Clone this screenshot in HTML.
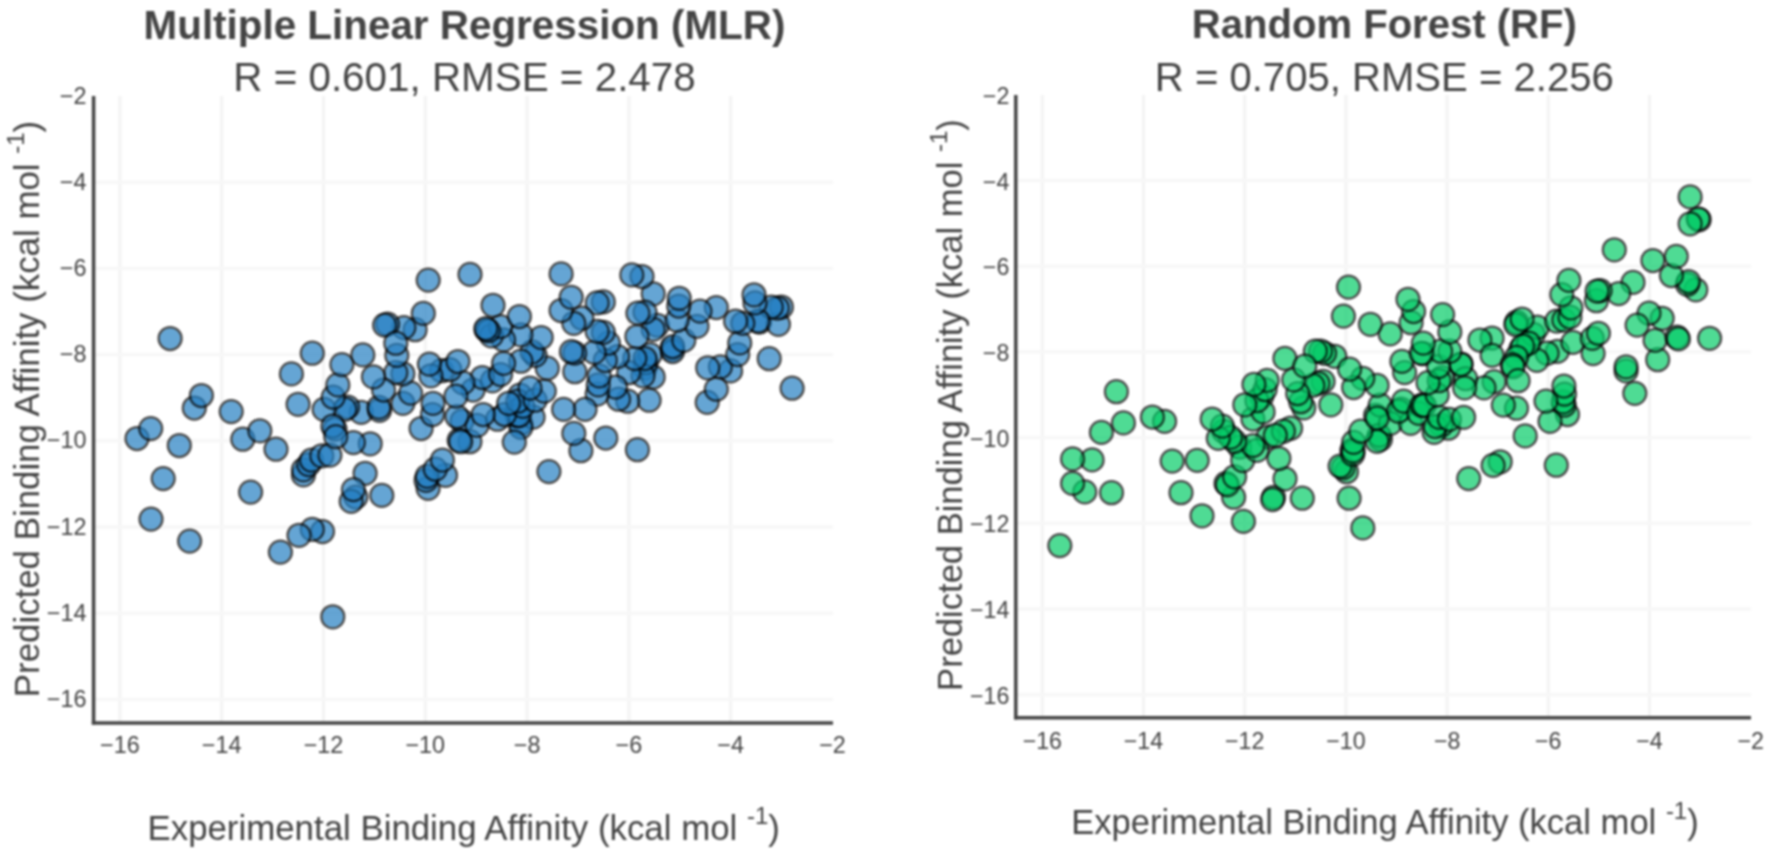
<!DOCTYPE html>
<html><head><meta charset="utf-8"><title>MLR vs RF</title>
<style>
html,body{margin:0;padding:0;background:#fff;}
body{width:1770px;height:855px;overflow:hidden;font-family:"Liberation Sans",Arial,sans-serif;}
svg{display:block;filter:blur(0.8px);font-family:"Liberation Sans",Arial,sans-serif;}
.g{stroke:#f7f7f7;stroke-width:3.4;}
.gv{stroke:#f4f4f4;}
.a{stroke:#444;stroke-width:3.5;}
.t{font-size:23.4px;fill:#444;}
.ti{font-size:40.4px;font-weight:bold;fill:#444;}
.su{font-size:40.4px;fill:#444;}
.al{font-size:34.85px;fill:#444;}
.sp{font-size:24px;}
.m circle{opacity:0.7;}
.rp .t{font-size:23.2px;}
.rp .ti,.rp .su{font-size:40.1px;}
.rp .al{font-size:34.55px;}
</style></head><body>
<svg width="1770" height="855" viewBox="0 0 1770 855">
<rect width="1770" height="855" fill="#fff"/>
<line x1="119.9" y1="96.0" x2="119.9" y2="722.9" class="g gv"/>
<line x1="221.7" y1="96.0" x2="221.7" y2="722.9" class="g gv"/>
<line x1="323.5" y1="96.0" x2="323.5" y2="722.9" class="g gv"/>
<line x1="425.3" y1="96.0" x2="425.3" y2="722.9" class="g gv"/>
<line x1="527.1" y1="96.0" x2="527.1" y2="722.9" class="g gv"/>
<line x1="628.9" y1="96.0" x2="628.9" y2="722.9" class="g gv"/>
<line x1="730.7" y1="96.0" x2="730.7" y2="722.9" class="g gv"/>
<line x1="95.3" y1="182.2" x2="833.0" y2="182.2" class="g"/>
<line x1="95.3" y1="268.4" x2="833.0" y2="268.4" class="g"/>
<line x1="95.3" y1="354.6" x2="833.0" y2="354.6" class="g"/>
<line x1="95.3" y1="440.8" x2="833.0" y2="440.8" class="g"/>
<line x1="95.3" y1="527.0" x2="833.0" y2="527.0" class="g"/>
<line x1="95.3" y1="613.2" x2="833.0" y2="613.2" class="g"/>
<line x1="95.3" y1="699.4" x2="833.0" y2="699.4" class="g"/>
<g fill="#2580c3" stroke="#000" stroke-width="2.25" class="m">
<circle cx="645.0" cy="368.0" r="11.5"/>
<circle cx="520.0" cy="395.0" r="11.5"/>
<circle cx="486.5" cy="330.0" r="11.5"/>
<circle cx="672.0" cy="349.0" r="11.5"/>
<circle cx="462.0" cy="421.0" r="11.5"/>
<circle cx="759.5" cy="322.0" r="11.5"/>
<circle cx="653.2" cy="377.0" r="11.5"/>
<circle cx="646.1" cy="362.7" r="11.5"/>
<circle cx="650.2" cy="354.6" r="11.5"/>
<circle cx="672.6" cy="351.5" r="11.5"/>
<circle cx="672.6" cy="346.5" r="11.5"/>
<circle cx="683.8" cy="340.4" r="11.5"/>
<circle cx="707.2" cy="402.4" r="11.5"/>
<circle cx="716.3" cy="389.2" r="11.5"/>
<circle cx="730.6" cy="370.9" r="11.5"/>
<circle cx="720.4" cy="366.8" r="11.5"/>
<circle cx="707.7" cy="367.8" r="11.5"/>
<circle cx="737.7" cy="354.6" r="11.5"/>
<circle cx="739.7" cy="342.9" r="11.5"/>
<circle cx="792.1" cy="388.2" r="11.5"/>
<circle cx="769.2" cy="358.7" r="11.5"/>
<circle cx="657.3" cy="325.3" r="11.5"/>
<circle cx="653.2" cy="329.4" r="11.5"/>
<circle cx="778.4" cy="324.3" r="11.5"/>
<circle cx="781.4" cy="307.0" r="11.5"/>
<circle cx="777.4" cy="308.0" r="11.5"/>
<circle cx="771.3" cy="307.0" r="11.5"/>
<circle cx="758.0" cy="321.2" r="11.5"/>
<circle cx="742.8" cy="323.3" r="11.5"/>
<circle cx="735.6" cy="321.2" r="11.5"/>
<circle cx="755.0" cy="302.9" r="11.5"/>
<circle cx="754.0" cy="294.8" r="11.5"/>
<circle cx="697.0" cy="326.3" r="11.5"/>
<circle cx="716.3" cy="307.5" r="11.5"/>
<circle cx="700.0" cy="311.1" r="11.5"/>
<circle cx="677.1" cy="320.2" r="11.5"/>
<circle cx="678.7" cy="306.0" r="11.5"/>
<circle cx="679.2" cy="298.3" r="11.5"/>
<circle cx="653.2" cy="293.8" r="11.5"/>
<circle cx="428.2" cy="280.1" r="11.5"/>
<circle cx="355.8" cy="497.0" r="11.5"/>
<circle cx="428.1" cy="488.3" r="11.5"/>
<circle cx="381.8" cy="495.4" r="11.5"/>
<circle cx="445.5" cy="475.3" r="11.5"/>
<circle cx="426.1" cy="480.4" r="11.5"/>
<circle cx="427.2" cy="476.3" r="11.5"/>
<circle cx="435.3" cy="469.2" r="11.5"/>
<circle cx="442.4" cy="460.0" r="11.5"/>
<circle cx="520.8" cy="423.4" r="11.5"/>
<circle cx="516.7" cy="411.2" r="11.5"/>
<circle cx="469.9" cy="441.7" r="11.5"/>
<circle cx="459.2" cy="440.2" r="11.5"/>
<circle cx="460.7" cy="441.7" r="11.5"/>
<circle cx="477.0" cy="425.4" r="11.5"/>
<circle cx="365.1" cy="473.3" r="11.5"/>
<circle cx="370.2" cy="443.8" r="11.5"/>
<circle cx="421.1" cy="428.5" r="11.5"/>
<circle cx="533.1" cy="417.1" r="11.5"/>
<circle cx="520.9" cy="427.3" r="11.5"/>
<circle cx="517.0" cy="415.5" r="11.5"/>
<circle cx="519.1" cy="415.6" r="11.5"/>
<circle cx="497.5" cy="419.2" r="11.5"/>
<circle cx="637.4" cy="449.7" r="11.5"/>
<circle cx="605.8" cy="438.0" r="11.5"/>
<circle cx="580.9" cy="450.7" r="11.5"/>
<circle cx="573.8" cy="433.4" r="11.5"/>
<circle cx="514.3" cy="442.1" r="11.5"/>
<circle cx="548.9" cy="471.6" r="11.5"/>
<circle cx="649.1" cy="400.2" r="11.5"/>
<circle cx="643.0" cy="375.8" r="11.5"/>
<circle cx="645.0" cy="358.5" r="11.5"/>
<circle cx="628.7" cy="372.7" r="11.5"/>
<circle cx="634.8" cy="358.5" r="11.5"/>
<circle cx="627.7" cy="401.2" r="11.5"/>
<circle cx="618.6" cy="399.2" r="11.5"/>
<circle cx="615.5" cy="387.0" r="11.5"/>
<circle cx="597.2" cy="394.1" r="11.5"/>
<circle cx="598.2" cy="384.9" r="11.5"/>
<circle cx="599.2" cy="375.8" r="11.5"/>
<circle cx="617.5" cy="356.5" r="11.5"/>
<circle cx="605.3" cy="360.5" r="11.5"/>
<circle cx="608.4" cy="343.2" r="11.5"/>
<circle cx="594.1" cy="352.4" r="11.5"/>
<circle cx="574.8" cy="371.7" r="11.5"/>
<circle cx="574.7" cy="353.0" r="11.5"/>
<circle cx="571.4" cy="351.7" r="11.5"/>
<circle cx="585.0" cy="409.4" r="11.5"/>
<circle cx="563.6" cy="409.4" r="11.5"/>
<circle cx="504.6" cy="414.5" r="11.5"/>
<circle cx="483.2" cy="414.5" r="11.5"/>
<circle cx="522.9" cy="406.3" r="11.5"/>
<circle cx="517.8" cy="401.2" r="11.5"/>
<circle cx="508.7" cy="403.3" r="11.5"/>
<circle cx="535.1" cy="400.2" r="11.5"/>
<circle cx="544.3" cy="391.1" r="11.5"/>
<circle cx="530.0" cy="388.0" r="11.5"/>
<circle cx="473.1" cy="390.0" r="11.5"/>
<circle cx="492.4" cy="380.9" r="11.5"/>
<circle cx="547.3" cy="368.2" r="11.5"/>
<circle cx="535.1" cy="355.4" r="11.5"/>
<circle cx="532.1" cy="351.9" r="11.5"/>
<circle cx="636.9" cy="336.5" r="11.5"/>
<circle cx="645.0" cy="312.1" r="11.5"/>
<circle cx="637.9" cy="313.1" r="11.5"/>
<circle cx="642.0" cy="276.5" r="11.5"/>
<circle cx="631.8" cy="274.9" r="11.5"/>
<circle cx="603.3" cy="332.4" r="11.5"/>
<circle cx="597.2" cy="331.4" r="11.5"/>
<circle cx="603.3" cy="301.9" r="11.5"/>
<circle cx="597.2" cy="302.9" r="11.5"/>
<circle cx="581.9" cy="318.2" r="11.5"/>
<circle cx="573.8" cy="323.3" r="11.5"/>
<circle cx="561.1" cy="310.5" r="11.5"/>
<circle cx="571.2" cy="297.3" r="11.5"/>
<circle cx="541.2" cy="337.5" r="11.5"/>
<circle cx="561.1" cy="273.9" r="11.5"/>
<circle cx="470.0" cy="274.4" r="11.5"/>
<circle cx="482.3" cy="377.5" r="11.5"/>
<circle cx="500.6" cy="374.5" r="11.5"/>
<circle cx="520.9" cy="361.2" r="11.5"/>
<circle cx="503.6" cy="363.3" r="11.5"/>
<circle cx="520.9" cy="334.8" r="11.5"/>
<circle cx="503.6" cy="339.9" r="11.5"/>
<circle cx="491.4" cy="335.8" r="11.5"/>
<circle cx="500.6" cy="326.6" r="11.5"/>
<circle cx="488.4" cy="330.7" r="11.5"/>
<circle cx="485.8" cy="328.7" r="11.5"/>
<circle cx="519.4" cy="316.5" r="11.5"/>
<circle cx="493.0" cy="305.3" r="11.5"/>
<circle cx="415.1" cy="329.7" r="11.5"/>
<circle cx="403.9" cy="327.6" r="11.5"/>
<circle cx="387.6" cy="324.1" r="11.5"/>
<circle cx="384.6" cy="325.1" r="11.5"/>
<circle cx="423.3" cy="313.4" r="11.5"/>
<circle cx="456.9" cy="416.5" r="11.5"/>
<circle cx="361.2" cy="412.4" r="11.5"/>
<circle cx="379.5" cy="410.4" r="11.5"/>
<circle cx="379.0" cy="407.3" r="11.5"/>
<circle cx="463.0" cy="382.9" r="11.5"/>
<circle cx="455.9" cy="396.1" r="11.5"/>
<circle cx="432.5" cy="414.5" r="11.5"/>
<circle cx="433.0" cy="403.3" r="11.5"/>
<circle cx="402.9" cy="403.3" r="11.5"/>
<circle cx="410.6" cy="393.1" r="11.5"/>
<circle cx="441.6" cy="370.7" r="11.5"/>
<circle cx="449.8" cy="369.7" r="11.5"/>
<circle cx="457.9" cy="361.5" r="11.5"/>
<circle cx="430.9" cy="375.8" r="11.5"/>
<circle cx="429.4" cy="364.1" r="11.5"/>
<circle cx="402.9" cy="373.8" r="11.5"/>
<circle cx="395.8" cy="372.7" r="11.5"/>
<circle cx="396.8" cy="355.4" r="11.5"/>
<circle cx="395.8" cy="343.2" r="11.5"/>
<circle cx="383.6" cy="390.0" r="11.5"/>
<circle cx="373.4" cy="376.8" r="11.5"/>
<circle cx="347.6" cy="407.0" r="11.5"/>
<circle cx="344.8" cy="409.2" r="11.5"/>
<circle cx="324.1" cy="409.4" r="11.5"/>
<circle cx="298.1" cy="404.3" r="11.5"/>
<circle cx="333.2" cy="397.2" r="11.5"/>
<circle cx="337.8" cy="384.9" r="11.5"/>
<circle cx="362.8" cy="354.9" r="11.5"/>
<circle cx="341.9" cy="364.6" r="11.5"/>
<circle cx="332.8" cy="616.8" r="11.5"/>
<circle cx="322.5" cy="531.6" r="11.5"/>
<circle cx="312.3" cy="529.4" r="11.5"/>
<circle cx="299.0" cy="535.3" r="11.5"/>
<circle cx="280.4" cy="552.1" r="11.5"/>
<circle cx="189.6" cy="541.1" r="11.5"/>
<circle cx="151.0" cy="519.1" r="11.5"/>
<circle cx="335.0" cy="429.1" r="11.5"/>
<circle cx="332.9" cy="426.0" r="11.5"/>
<circle cx="351.2" cy="501.4" r="11.5"/>
<circle cx="353.4" cy="489.6" r="11.5"/>
<circle cx="303.4" cy="474.9" r="11.5"/>
<circle cx="303.4" cy="469.8" r="11.5"/>
<circle cx="308.6" cy="464.6" r="11.5"/>
<circle cx="311.5" cy="460.2" r="11.5"/>
<circle cx="321.8" cy="455.8" r="11.5"/>
<circle cx="329.9" cy="455.1" r="11.5"/>
<circle cx="353.4" cy="442.6" r="11.5"/>
<circle cx="335.8" cy="436.7" r="11.5"/>
<circle cx="250.6" cy="492.1" r="11.5"/>
<circle cx="276.0" cy="449.2" r="11.5"/>
<circle cx="242.8" cy="439.2" r="11.5"/>
<circle cx="259.8" cy="430.8" r="11.5"/>
<circle cx="163.2" cy="478.6" r="11.5"/>
<circle cx="179.3" cy="445.5" r="11.5"/>
<circle cx="137.0" cy="438.5" r="11.5"/>
<circle cx="150.7" cy="428.6" r="11.5"/>
<circle cx="231.2" cy="411.6" r="11.5"/>
<circle cx="194.3" cy="408.0" r="11.5"/>
<circle cx="201.4" cy="395.5" r="11.5"/>
<circle cx="291.4" cy="373.9" r="11.5"/>
<circle cx="312.3" cy="353.2" r="11.5"/>
<circle cx="170.1" cy="338.5" r="11.5"/>
</g>
<line x1="93.6" y1="96.0" x2="93.6" y2="724.6" class="a"/>
<line x1="91.8" y1="722.9" x2="833.0" y2="722.9" class="a"/>
<text x="119.9" y="752.9" class="t" text-anchor="middle">−16</text>
<text x="86.5" y="706.9" class="t" text-anchor="end">−16</text>
<text x="221.7" y="752.9" class="t" text-anchor="middle">−14</text>
<text x="86.5" y="620.7" class="t" text-anchor="end">−14</text>
<text x="323.5" y="752.9" class="t" text-anchor="middle">−12</text>
<text x="86.5" y="534.5" class="t" text-anchor="end">−12</text>
<text x="425.3" y="752.9" class="t" text-anchor="middle">−10</text>
<text x="86.5" y="448.3" class="t" text-anchor="end">−10</text>
<text x="527.1" y="752.9" class="t" text-anchor="middle">−8</text>
<text x="86.5" y="362.1" class="t" text-anchor="end">−8</text>
<text x="628.9" y="752.9" class="t" text-anchor="middle">−6</text>
<text x="86.5" y="275.9" class="t" text-anchor="end">−6</text>
<text x="730.7" y="752.9" class="t" text-anchor="middle">−4</text>
<text x="86.5" y="189.7" class="t" text-anchor="end">−4</text>
<text x="832.5" y="752.9" class="t" text-anchor="middle">−2</text>
<text x="86.5" y="103.5" class="t" text-anchor="end">−2</text>
<text x="464.5" y="38.6" class="ti" text-anchor="middle">Multiple Linear Regression (MLR)</text>
<text x="464.5" y="91.2" class="su" text-anchor="middle">R = 0.601, RMSE = 2.478</text>
<text x="463.7" y="839.9" class="al" text-anchor="middle">Experimental Binding Affinity (kcal mol <tspan class="sp" dy="-15.5">-1</tspan><tspan dy="15.5">)</tspan></text>
<text transform="translate(39.3,409.0) rotate(-90)" class="al" text-anchor="middle">Predicted Binding Affinity (kcal mol <tspan class="sp" dy="-15.5">-1</tspan><tspan dy="15.5">)</tspan></text>
<g class="rp">
<line x1="1042.3" y1="95.0" x2="1042.3" y2="717.7" class="g gv"/>
<line x1="1143.5" y1="95.0" x2="1143.5" y2="717.7" class="g gv"/>
<line x1="1244.7" y1="95.0" x2="1244.7" y2="717.7" class="g gv"/>
<line x1="1345.9" y1="95.0" x2="1345.9" y2="717.7" class="g gv"/>
<line x1="1447.1" y1="95.0" x2="1447.1" y2="717.7" class="g gv"/>
<line x1="1548.3" y1="95.0" x2="1548.3" y2="717.7" class="g gv"/>
<line x1="1649.5" y1="95.0" x2="1649.5" y2="717.7" class="g gv"/>
<line x1="1017.5" y1="180.5" x2="1751.0" y2="180.5" class="g"/>
<line x1="1017.5" y1="266.2" x2="1751.0" y2="266.2" class="g"/>
<line x1="1017.5" y1="351.9" x2="1751.0" y2="351.9" class="g"/>
<line x1="1017.5" y1="437.6" x2="1751.0" y2="437.6" class="g"/>
<line x1="1017.5" y1="523.3" x2="1751.0" y2="523.3" class="g"/>
<line x1="1017.5" y1="609.0" x2="1751.0" y2="609.0" class="g"/>
<line x1="1017.5" y1="694.7" x2="1751.0" y2="694.7" class="g"/>
<g fill="#05cc68" stroke="#000" stroke-width="2.25" class="m">
<circle cx="1223.7" cy="431.3" r="11.5"/>
<circle cx="1239.6" cy="447.1" r="11.5"/>
<circle cx="1261.7" cy="396.5" r="11.5"/>
<circle cx="1375.6" cy="415.4" r="11.5"/>
<circle cx="1380.4" cy="439.2" r="11.5"/>
<circle cx="1421.5" cy="405.9" r="11.5"/>
<circle cx="1400.9" cy="409.1" r="11.5"/>
<circle cx="1461.1" cy="364.0" r="11.5"/>
<circle cx="1423.1" cy="353.7" r="11.5"/>
<circle cx="1442.1" cy="377.5" r="11.5"/>
<circle cx="1351.9" cy="450.3" r="11.5"/>
<circle cx="1527.0" cy="344.0" r="11.5"/>
<circle cx="1268.0" cy="437.0" r="11.5"/>
<circle cx="1362.8" cy="527.9" r="11.5"/>
<circle cx="1556.3" cy="465.2" r="11.5"/>
<circle cx="1567.5" cy="414.5" r="11.5"/>
<circle cx="1564.2" cy="405.2" r="11.5"/>
<circle cx="1563.2" cy="401.9" r="11.5"/>
<circle cx="1564.5" cy="394.1" r="11.5"/>
<circle cx="1563.9" cy="386.0" r="11.5"/>
<circle cx="1520.7" cy="349.3" r="11.5"/>
<circle cx="1557.3" cy="351.4" r="11.5"/>
<circle cx="1593.1" cy="353.6" r="11.5"/>
<circle cx="1634.8" cy="393.3" r="11.5"/>
<circle cx="1626.1" cy="370.9" r="11.5"/>
<circle cx="1626.1" cy="366.8" r="11.5"/>
<circle cx="1657.7" cy="359.7" r="11.5"/>
<circle cx="1655.1" cy="340.4" r="11.5"/>
<circle cx="1677.1" cy="337.2" r="11.5"/>
<circle cx="1678.4" cy="338.9" r="11.5"/>
<circle cx="1709.6" cy="338.3" r="11.5"/>
<circle cx="1662.2" cy="318.3" r="11.5"/>
<circle cx="1649.0" cy="313.2" r="11.5"/>
<circle cx="1695.8" cy="289.8" r="11.5"/>
<circle cx="1687.4" cy="284.3" r="11.5"/>
<circle cx="1688.5" cy="281.5" r="11.5"/>
<circle cx="1671.4" cy="275.5" r="11.5"/>
<circle cx="1676.3" cy="256.4" r="11.5"/>
<circle cx="1652.9" cy="260.5" r="11.5"/>
<circle cx="1614.3" cy="249.8" r="11.5"/>
<circle cx="1699.2" cy="219.8" r="11.5"/>
<circle cx="1698.2" cy="218.8" r="11.5"/>
<circle cx="1690.1" cy="223.8" r="11.5"/>
<circle cx="1690.1" cy="196.9" r="11.5"/>
<circle cx="1533.3" cy="334.3" r="11.5"/>
<circle cx="1537.3" cy="327.2" r="11.5"/>
<circle cx="1516.6" cy="322.2" r="11.5"/>
<circle cx="1515.8" cy="324.5" r="11.5"/>
<circle cx="1522.1" cy="319.0" r="11.5"/>
<circle cx="1572.9" cy="342.4" r="11.5"/>
<circle cx="1592.3" cy="338.4" r="11.5"/>
<circle cx="1598.4" cy="333.3" r="11.5"/>
<circle cx="1637.1" cy="325.1" r="11.5"/>
<circle cx="1633.0" cy="282.4" r="11.5"/>
<circle cx="1618.7" cy="293.6" r="11.5"/>
<circle cx="1596.4" cy="300.7" r="11.5"/>
<circle cx="1600.2" cy="290.6" r="11.5"/>
<circle cx="1597.1" cy="291.0" r="11.5"/>
<circle cx="1556.7" cy="321.1" r="11.5"/>
<circle cx="1563.8" cy="320.0" r="11.5"/>
<circle cx="1569.9" cy="317.0" r="11.5"/>
<circle cx="1570.9" cy="307.8" r="11.5"/>
<circle cx="1561.8" cy="294.6" r="11.5"/>
<circle cx="1568.9" cy="280.4" r="11.5"/>
<circle cx="1379.2" cy="435.4" r="11.5"/>
<circle cx="1448.4" cy="428.2" r="11.5"/>
<circle cx="1441.2" cy="425.2" r="11.5"/>
<circle cx="1434.1" cy="432.3" r="11.5"/>
<circle cx="1525.2" cy="435.9" r="11.5"/>
<circle cx="1500.2" cy="461.8" r="11.5"/>
<circle cx="1493.1" cy="465.4" r="11.5"/>
<circle cx="1468.7" cy="478.6" r="11.5"/>
<circle cx="1390.4" cy="423.4" r="11.5"/>
<circle cx="1380.2" cy="405.1" r="11.5"/>
<circle cx="1410.7" cy="423.4" r="11.5"/>
<circle cx="1398.5" cy="411.2" r="11.5"/>
<circle cx="1403.6" cy="401.1" r="11.5"/>
<circle cx="1418.8" cy="413.3" r="11.5"/>
<circle cx="1422.1" cy="405.2" r="11.5"/>
<circle cx="1424.3" cy="405.5" r="11.5"/>
<circle cx="1435.1" cy="426.5" r="11.5"/>
<circle cx="1439.2" cy="417.3" r="11.5"/>
<circle cx="1449.4" cy="419.4" r="11.5"/>
<circle cx="1463.6" cy="417.3" r="11.5"/>
<circle cx="1550.0" cy="421.4" r="11.5"/>
<circle cx="1546.0" cy="401.1" r="11.5"/>
<circle cx="1516.5" cy="408.2" r="11.5"/>
<circle cx="1503.3" cy="405.1" r="11.5"/>
<circle cx="1547.1" cy="353.2" r="11.5"/>
<circle cx="1536.9" cy="360.4" r="11.5"/>
<circle cx="1528.7" cy="343.1" r="11.5"/>
<circle cx="1522.6" cy="346.1" r="11.5"/>
<circle cx="1492.1" cy="338.0" r="11.5"/>
<circle cx="1479.9" cy="340.0" r="11.5"/>
<circle cx="1492.1" cy="355.3" r="11.5"/>
<circle cx="1516.5" cy="357.3" r="11.5"/>
<circle cx="1512.3" cy="364.7" r="11.5"/>
<circle cx="1513.1" cy="366.7" r="11.5"/>
<circle cx="1518.1" cy="380.7" r="11.5"/>
<circle cx="1494.1" cy="381.7" r="11.5"/>
<circle cx="1484.0" cy="387.8" r="11.5"/>
<circle cx="1465.6" cy="378.7" r="11.5"/>
<circle cx="1464.6" cy="387.8" r="11.5"/>
<circle cx="1437.2" cy="394.9" r="11.5"/>
<circle cx="1439.2" cy="380.7" r="11.5"/>
<circle cx="1428.0" cy="382.7" r="11.5"/>
<circle cx="1404.6" cy="372.6" r="11.5"/>
<circle cx="1284.9" cy="358.4" r="11.5"/>
<circle cx="1334.8" cy="356.3" r="11.5"/>
<circle cx="1324.6" cy="353.3" r="11.5"/>
<circle cx="1320.5" cy="351.2" r="11.5"/>
<circle cx="1315.4" cy="351.2" r="11.5"/>
<circle cx="1460.9" cy="364.5" r="11.5"/>
<circle cx="1438.6" cy="366.5" r="11.5"/>
<circle cx="1401.9" cy="361.4" r="11.5"/>
<circle cx="1449.8" cy="351.2" r="11.5"/>
<circle cx="1440.6" cy="351.2" r="11.5"/>
<circle cx="1421.3" cy="353.3" r="11.5"/>
<circle cx="1423.3" cy="343.1" r="11.5"/>
<circle cx="1449.8" cy="331.9" r="11.5"/>
<circle cx="1442.6" cy="314.6" r="11.5"/>
<circle cx="1411.1" cy="322.7" r="11.5"/>
<circle cx="1413.6" cy="311.5" r="11.5"/>
<circle cx="1408.0" cy="299.3" r="11.5"/>
<circle cx="1390.2" cy="333.9" r="11.5"/>
<circle cx="1370.4" cy="324.3" r="11.5"/>
<circle cx="1343.4" cy="316.1" r="11.5"/>
<circle cx="1348.5" cy="287.1" r="11.5"/>
<circle cx="1346.5" cy="471.7" r="11.5"/>
<circle cx="1343.2" cy="467.7" r="11.5"/>
<circle cx="1340.1" cy="466.1" r="11.5"/>
<circle cx="1352.7" cy="454.2" r="11.5"/>
<circle cx="1353.1" cy="451.1" r="11.5"/>
<circle cx="1349.1" cy="498.2" r="11.5"/>
<circle cx="1302.3" cy="498.2" r="11.5"/>
<circle cx="1273.5" cy="497.3" r="11.5"/>
<circle cx="1272.6" cy="499.6" r="11.5"/>
<circle cx="1233.6" cy="497.2" r="11.5"/>
<circle cx="1226.0" cy="483.4" r="11.5"/>
<circle cx="1227.4" cy="484.9" r="11.5"/>
<circle cx="1234.6" cy="476.8" r="11.5"/>
<circle cx="1285.0" cy="478.8" r="11.5"/>
<circle cx="1278.9" cy="458.5" r="11.5"/>
<circle cx="1242.7" cy="460.5" r="11.5"/>
<circle cx="1257.0" cy="450.4" r="11.5"/>
<circle cx="1377.1" cy="441.4" r="11.5"/>
<circle cx="1353.6" cy="442.4" r="11.5"/>
<circle cx="1360.8" cy="431.2" r="11.5"/>
<circle cx="1377.1" cy="418.0" r="11.5"/>
<circle cx="1377.1" cy="385.4" r="11.5"/>
<circle cx="1362.8" cy="378.3" r="11.5"/>
<circle cx="1353.6" cy="387.5" r="11.5"/>
<circle cx="1349.6" cy="369.2" r="11.5"/>
<circle cx="1330.8" cy="404.8" r="11.5"/>
<circle cx="1323.1" cy="381.4" r="11.5"/>
<circle cx="1318.0" cy="383.4" r="11.5"/>
<circle cx="1312.9" cy="385.4" r="11.5"/>
<circle cx="1303.8" cy="407.8" r="11.5"/>
<circle cx="1300.7" cy="401.7" r="11.5"/>
<circle cx="1297.7" cy="393.6" r="11.5"/>
<circle cx="1293.6" cy="379.8" r="11.5"/>
<circle cx="1304.8" cy="366.1" r="11.5"/>
<circle cx="1290.6" cy="428.2" r="11.5"/>
<circle cx="1283.4" cy="431.2" r="11.5"/>
<circle cx="1275.3" cy="435.3" r="11.5"/>
<circle cx="1252.9" cy="445.5" r="11.5"/>
<circle cx="1234.6" cy="441.4" r="11.5"/>
<circle cx="1230.5" cy="437.3" r="11.5"/>
<circle cx="1218.3" cy="438.4" r="11.5"/>
<circle cx="1222.4" cy="426.1" r="11.5"/>
<circle cx="1212.2" cy="419.0" r="11.5"/>
<circle cx="1252.9" cy="419.0" r="11.5"/>
<circle cx="1263.1" cy="411.9" r="11.5"/>
<circle cx="1257.0" cy="400.7" r="11.5"/>
<circle cx="1244.8" cy="404.8" r="11.5"/>
<circle cx="1265.1" cy="389.5" r="11.5"/>
<circle cx="1267.2" cy="380.4" r="11.5"/>
<circle cx="1253.9" cy="384.4" r="11.5"/>
<circle cx="1243.4" cy="521.4" r="11.5"/>
<circle cx="1202.0" cy="515.8" r="11.5"/>
<circle cx="1059.8" cy="545.6" r="11.5"/>
<circle cx="1181.0" cy="492.7" r="11.5"/>
<circle cx="1197.2" cy="460.3" r="11.5"/>
<circle cx="1172.2" cy="461.1" r="11.5"/>
<circle cx="1164.6" cy="421.4" r="11.5"/>
<circle cx="1152.4" cy="417.0" r="11.5"/>
<circle cx="1111.5" cy="492.7" r="11.5"/>
<circle cx="1084.8" cy="491.9" r="11.5"/>
<circle cx="1072.6" cy="483.4" r="11.5"/>
<circle cx="1092.1" cy="459.9" r="11.5"/>
<circle cx="1072.6" cy="458.9" r="11.5"/>
<circle cx="1101.4" cy="432.4" r="11.5"/>
<circle cx="1123.4" cy="422.9" r="11.5"/>
<circle cx="1116.4" cy="391.7" r="11.5"/>
</g>
<line x1="1015.8" y1="95.0" x2="1015.8" y2="719.5" class="a"/>
<line x1="1014.0" y1="717.7" x2="1751.0" y2="717.7" class="a"/>
<text x="1042.3" y="748.6" class="t" text-anchor="middle">−16</text>
<text x="1009.3" y="703.7" class="t" text-anchor="end">−16</text>
<text x="1143.5" y="748.6" class="t" text-anchor="middle">−14</text>
<text x="1009.3" y="618.0" class="t" text-anchor="end">−14</text>
<text x="1244.7" y="748.6" class="t" text-anchor="middle">−12</text>
<text x="1009.3" y="532.3" class="t" text-anchor="end">−12</text>
<text x="1345.9" y="748.6" class="t" text-anchor="middle">−10</text>
<text x="1009.3" y="446.6" class="t" text-anchor="end">−10</text>
<text x="1447.1" y="748.6" class="t" text-anchor="middle">−8</text>
<text x="1009.3" y="360.9" class="t" text-anchor="end">−8</text>
<text x="1548.3" y="748.6" class="t" text-anchor="middle">−6</text>
<text x="1009.3" y="275.2" class="t" text-anchor="end">−6</text>
<text x="1649.5" y="748.6" class="t" text-anchor="middle">−4</text>
<text x="1009.3" y="189.5" class="t" text-anchor="end">−4</text>
<text x="1750.7" y="748.6" class="t" text-anchor="middle">−2</text>
<text x="1009.3" y="103.8" class="t" text-anchor="end">−2</text>
<text x="1384.3" y="38.2" class="ti" text-anchor="middle">Random Forest (RF)</text>
<text x="1384.3" y="90.8" class="su" text-anchor="middle">R = 0.705, RMSE = 2.256</text>
<text x="1385.0" y="834.0" class="al" text-anchor="middle">Experimental Binding Affinity (kcal mol <tspan class="sp" dy="-15.5">-1</tspan><tspan dy="15.5">)</tspan></text>
<text transform="translate(962.0,405.0) rotate(-90)" class="al" text-anchor="middle">Predicted Binding Affinity (kcal mol <tspan class="sp" dy="-15.5">-1</tspan><tspan dy="15.5">)</tspan></text>
</g>
</svg>
</body></html>
